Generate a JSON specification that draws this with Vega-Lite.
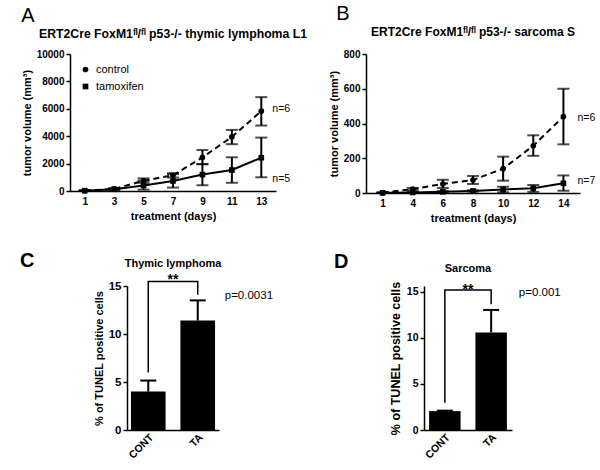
{
  "$schema": "https://vega.github.io/schema/vega-lite/v6.json",
  "background": "white",
  "padding": {"left": 20, "top": 4, "right": 2, "bottom": 2},
  "config": {
    "font": "Liberation Sans",
    "view": {"stroke": null},
    "axis": {"grid": false, "domainColor": "black", "domainWidth": 1.5, "tickColor": "black", "tickWidth": 1.5, "tickSize": 4, "labelColor": "black", "labelFontWeight": "bold", "labelFontSize": 10, "titleColor": "black", "titleFontWeight": "bold", "titleFontSize": 11, "labelPadding": 2, "labelOverlap": false},
    "title": {"color": "black"},
    "legend": {"labelFontSize": 10.5, "labelColor": "black"}
  },
  "datasets": {
    "A": [
      {"day": 1, "group": "control", "mean": 30, "lo": 0, "hi": 60},
      {"day": 3, "group": "control", "mean": 150, "lo": 100, "hi": 200},
      {"day": 5, "group": "control", "mean": 750, "lo": 600, "hi": 920},
      {"day": 7, "group": "control", "mean": 1150, "lo": 980, "hi": 1300},
      {"day": 9, "group": "control", "mean": 2450, "lo": 1960, "hi": 2990},
      {"day": 11, "group": "control", "mean": 3950, "lo": 3420, "hi": 4460},
      {"day": 13, "group": "control", "mean": 5830, "lo": 4780, "hi": 6850},
      {"day": 1, "group": "tamoxifen", "mean": 20, "lo": 0, "hi": 40},
      {"day": 3, "group": "tamoxifen", "mean": 130, "lo": 80, "hi": 180},
      {"day": 5, "group": "tamoxifen", "mean": 400, "lo": 100, "hi": 750},
      {"day": 7, "group": "tamoxifen", "mean": 730, "lo": 250, "hi": 1230},
      {"day": 9, "group": "tamoxifen", "mean": 1200, "lo": 420, "hi": 1960},
      {"day": 11, "group": "tamoxifen", "mean": 1530, "lo": 600, "hi": 2460},
      {"day": 13, "group": "tamoxifen", "mean": 2430, "lo": 1000, "hi": 3900}
    ],
    "Aann": [
      {"day": 13, "v": 6000, "label": "n=6"},
      {"day": 13, "v": 850, "label": "n=5"}
    ],
    "B": [
      {"day": 1, "group": "control", "mean": 2, "lo": 0, "hi": 4},
      {"day": 4, "group": "control", "mean": 22, "lo": 15, "hi": 29},
      {"day": 6, "group": "control", "mean": 52, "lo": 29, "hi": 76},
      {"day": 8, "group": "control", "mean": 75, "lo": 52, "hi": 98},
      {"day": 10, "group": "control", "mean": 140, "lo": 71, "hi": 209},
      {"day": 12, "group": "control", "mean": 272, "lo": 214, "hi": 332},
      {"day": 14, "group": "control", "mean": 440, "lo": 280, "hi": 600},
      {"day": 1, "group": "tamoxifen", "mean": 1, "lo": 0, "hi": 2},
      {"day": 4, "group": "tamoxifen", "mean": 3, "lo": 1, "hi": 5},
      {"day": 6, "group": "tamoxifen", "mean": 7, "lo": 3, "hi": 11},
      {"day": 8, "group": "tamoxifen", "mean": 12, "lo": 8, "hi": 16},
      {"day": 10, "group": "tamoxifen", "mean": 20, "lo": 4, "hi": 36},
      {"day": 12, "group": "tamoxifen", "mean": 27, "lo": 6, "hi": 46},
      {"day": 14, "group": "tamoxifen", "mean": 56, "lo": 13, "hi": 101}
    ],
    "Bann": [
      {"day": 14, "v": 430, "label": "n=6"},
      {"day": 14, "v": 67, "label": "n=7"}
    ],
    "C": [
      {"cat": "CONT", "v": 4.0, "hi": 5.15},
      {"cat": "TA", "v": 11.4, "hi": 13.5}
    ],
    "Cbr": [
      {"cat": "CONT", "v": 6.0, "o": 1},
      {"cat": "CONT", "v": 15.46, "o": 2},
      {"cat": "TA", "v": 15.46, "o": 3},
      {"cat": "TA", "v": 14.1, "o": 4}
    ],
    "D": [
      {"cat": "CONT", "v": 2.05, "hi": 2.1},
      {"cat": "TA", "v": 10.6, "hi": 13.05}
    ],
    "Dbr": [
      {"cat": "CONT", "v": 2.97, "o": 1},
      {"cat": "CONT", "v": 15.22, "o": 2},
      {"cat": "TA", "v": 15.22, "o": 3},
      {"cat": "TA", "v": 13.66, "o": 4}
    ]
  },
  "concat": [
    {
      "hconcat": [
        {
          "title": {"text": "A", "anchor": "start", "fontSize": 20, "fontWeight": "normal", "offset": 2},
          "vconcat": [
            {
              "title": {"text": "ERT2Cre FoxM1ᶠˡ/ᶠˡ p53-/- thymic lymphoma L1", "fontSize": 12.25, "fontWeight": "bold", "offset": 9},
              "width": 206,
              "height": 137,
              "layer": [
                {
                  "data": {"name": "A"},
                  "transform": [{"filter": "datum.group === 'control'"}],
                  "mark": {"type": "line", "strokeWidth": 2, "color": "black", "strokeDash": [6, 4]},
                  "encoding": {
                    "x": {"field": "day", "type": "ordinal", "title": "treatment (days)", "scale": {"type": "point", "padding": 0.5}, "axis": {"labelAngle": 0, "ticks": false, "labelPadding": 5}},
                    "y": {"field": "mean", "type": "quantitative", "title": "tumor volume (mm³)", "scale": {"domain": [0, 10000], "nice": false}, "axis": {"values": [0, 2000, 4000, 6000, 8000, 10000], "format": "d"}}
                  }
                },
                {
                  "data": {"name": "A"},
                  "transform": [{"filter": "datum.group === 'tamoxifen'"}],
                  "mark": {"type": "line", "strokeWidth": 2, "color": "black"},
                  "encoding": {
                    "x": {"field": "day", "type": "ordinal", "title": "treatment (days)"},
                    "y": {"field": "mean", "type": "quantitative", "title": "tumor volume (mm³)", "axis": {"values": [0, 2000, 4000, 6000, 8000, 10000], "format": "d"}}
                  }
                },
                {
                  "data": {"name": "A"},
                  "mark": {"type": "errorbar", "color": "black", "thickness": 2, "size": 12, "ticks": true},
                  "encoding": {
                    "x": {"field": "day", "type": "ordinal", "title": "treatment (days)"},
                    "y": {"field": "lo", "type": "quantitative", "title": "tumor volume (mm³)", "axis": {"values": [0, 2000, 4000, 6000, 8000, 10000], "format": "d"}},
                    "y2": {"field": "hi"}
                  }
                },
                {
                  "data": {"name": "A"},
                  "mark": {"type": "point", "filled": true, "size": 32, "color": "black", "opacity": 1},
                  "encoding": {
                    "x": {"field": "day", "type": "ordinal", "title": "treatment (days)"},
                    "y": {"field": "mean", "type": "quantitative", "title": "tumor volume (mm³)", "axis": {"values": [0, 2000, 4000, 6000, 8000, 10000], "format": "d"}},
                    "shape": {"field": "group", "type": "nominal", "scale": {"domain": ["control", "tamoxifen"], "range": ["circle", "square"]}, "legend": {"title": null, "orient": "top-left", "offset": 10, "symbolFillColor": "black", "symbolStrokeColor": "black", "symbolSize": 32, "rowPadding": 4, "labelOffset": 5, "labelFontSize": 11}}
                  }
                },
                {
                  "data": {"name": "Aann"},
                  "mark": {"type": "text", "align": "left", "dx": 11, "fontSize": 10.5, "color": "black"},
                  "encoding": {
                    "x": {"field": "day", "type": "ordinal", "title": "treatment (days)"},
                    "y": {"field": "v", "type": "quantitative", "title": "tumor volume (mm³)", "axis": {"values": [0, 2000, 4000, 6000, 8000, 10000], "format": "d"}},
                    "text": {"field": "label"}
                  }
                }
              ]
            }
          ]
        },
        {
          "title": {"text": "B", "anchor": "start", "fontSize": 20, "fontWeight": "normal", "offset": 2, "dx": 8},
          "vconcat": [
            {
              "title": {"text": "ERT2Cre FoxM1ᶠˡ/ᶠˡ p53-/- sarcoma S", "fontSize": 12, "fontWeight": "bold", "offset": 10},
              "width": 214,
              "height": 139,
              "layer": [
                {
                  "data": {"name": "B"},
                  "transform": [{"filter": "datum.group === 'control'"}],
                  "mark": {"type": "line", "strokeWidth": 2, "color": "black", "strokeDash": [6, 4]},
                  "encoding": {
                    "x": {"field": "day", "type": "ordinal", "title": "treatment (days)", "scale": {"type": "point", "padding": 0.55}, "axis": {"labelAngle": 0, "ticks": false, "labelPadding": 5}},
                    "y": {"field": "mean", "type": "quantitative", "title": "tumor volume (mm³)", "scale": {"domain": [0, 800], "nice": false}, "axis": {"values": [0, 200, 400, 600, 800], "format": "d"}}
                  }
                },
                {
                  "data": {"name": "B"},
                  "transform": [{"filter": "datum.group === 'tamoxifen'"}],
                  "mark": {"type": "line", "strokeWidth": 2, "color": "black"},
                  "encoding": {
                    "x": {"field": "day", "type": "ordinal", "title": "treatment (days)"},
                    "y": {"field": "mean", "type": "quantitative", "title": "tumor volume (mm³)", "axis": {"values": [0, 200, 400, 600, 800], "format": "d"}}
                  }
                },
                {
                  "data": {"name": "B"},
                  "mark": {"type": "errorbar", "color": "black", "thickness": 2, "size": 12, "ticks": true},
                  "encoding": {
                    "x": {"field": "day", "type": "ordinal", "title": "treatment (days)"},
                    "y": {"field": "lo", "type": "quantitative", "title": "tumor volume (mm³)", "axis": {"values": [0, 200, 400, 600, 800], "format": "d"}},
                    "y2": {"field": "hi"}
                  }
                },
                {
                  "data": {"name": "B"},
                  "mark": {"type": "point", "filled": true, "size": 32, "color": "black", "opacity": 1},
                  "encoding": {
                    "x": {"field": "day", "type": "ordinal", "title": "treatment (days)"},
                    "y": {"field": "mean", "type": "quantitative", "title": "tumor volume (mm³)", "axis": {"values": [0, 200, 400, 600, 800], "format": "d"}},
                    "shape": {"field": "group", "type": "nominal", "scale": {"domain": ["control", "tamoxifen"], "range": ["circle", "square"]}, "legend": {"title": null, "orient": "top-left", "offset": 12, "symbolFillColor": "black", "symbolStrokeColor": "black", "symbolSize": 32, "rowPadding": 4, "labelOffset": 5, "labelFontSize": 11}}
                  }
                },
                {
                  "data": {"name": "Bann"},
                  "mark": {"type": "text", "align": "left", "dx": 14, "fontSize": 10.5, "color": "black"},
                  "encoding": {
                    "x": {"field": "day", "type": "ordinal", "title": "treatment (days)"},
                    "y": {"field": "v", "type": "quantitative", "title": "tumor volume (mm³)", "axis": {"values": [0, 200, 400, 600, 800], "format": "d"}},
                    "text": {"field": "label"}
                  }
                }
              ]
            }
          ]
        }
      ],
      "spacing": 20
    },
    {
      "hconcat": [
        {
          "title": {"text": "C", "anchor": "start", "frame": "group", "fontSize": 20, "fontWeight": "bold", "offset": 25, "dx": -50, "dy": 12},
          "width": 23,
          "height": 1,
          "data": {"values": [{}]},
          "mark": {"type": "point", "opacity": 0},
          "encoding": {}
        },
        {
          "title": {"text": "Thymic lymphoma", "fontSize": 11, "fontWeight": "bold", "offset": 2, "dy": -2},
          "width": 92,
          "height": 144,
          "layer": [
            {
              "data": {"name": "C"},
              "mark": {"type": "bar", "color": "black"},
              "encoding": {
                "x": {"field": "cat", "type": "nominal", "title": null, "sort": ["CONT", "TA"], "scale": {"paddingInner": 0.3, "paddingOuter": 0.08}, "axis": {"labelAngle": -45, "ticks": false, "labelFontSize": 10.5}},
                "y": {"field": "v", "type": "quantitative", "title": "% of TUNEL positive cells", "scale": {"domain": [0, 15], "nice": false}, "axis": {"values": [0, 5, 10, 15], "labelFontSize": 11.5}}
              }
            },
            {
              "data": {"name": "C"},
              "mark": {"type": "rule", "strokeWidth": 2, "color": "black"},
              "encoding": {
                "x": {"field": "cat", "type": "nominal", "title": null},
                "y": {"field": "v", "type": "quantitative", "title": "% of TUNEL positive cells"},
                "y2": {"field": "hi"}
              }
            },
            {
              "data": {"name": "C"},
              "mark": {"type": "tick", "orient": "horizontal", "size": 16, "thickness": 2, "color": "black", "opacity": 1},
              "encoding": {
                "x": {"field": "cat", "type": "nominal", "title": null},
                "y": {"field": "hi", "type": "quantitative", "title": "% of TUNEL positive cells"}
              }
            },
            {
              "data": {"name": "Cbr"},
              "mark": {"type": "line", "strokeWidth": 1.5, "color": "black"},
              "encoding": {
                "x": {"field": "cat", "type": "nominal", "title": null},
                "y": {"field": "v", "type": "quantitative", "title": "% of TUNEL positive cells"},
                "order": {"field": "o"}
              }
            },
            {
              "data": {"values": [{"cat": "CONT", "v": 15.6, "label": "**"}]},
              "mark": {"type": "text", "fontSize": 14, "fontWeight": "bold", "baseline": "middle", "color": "black"},
              "encoding": {
                "x": {"field": "cat", "type": "nominal", "title": null, "bandPosition": 1.215},
                "y": {"field": "v", "type": "quantitative", "title": "% of TUNEL positive cells"},
                "text": {"field": "label"}
              }
            },
            {
              "data": {"values": [{"cat": "TA", "v": 14.0, "label": "p=0.0031"}]},
              "mark": {"type": "text", "fontSize": 11.5, "align": "left", "baseline": "middle", "color": "black"},
              "encoding": {
                "x": {"field": "cat", "type": "nominal", "title": null, "bandPosition": 1.28},
                "y": {"field": "v", "type": "quantitative", "title": "% of TUNEL positive cells"},
                "text": {"field": "label"}
              }
            }
          ]
        },
        {
          "title": {"text": "D", "anchor": "start", "frame": "group", "fontSize": 20, "fontWeight": "bold", "offset": 25, "dx": 60, "dy": 13},
          "width": 115,
          "height": 1,
          "data": {"values": [{}]},
          "mark": {"type": "point", "opacity": 0},
          "encoding": {}
        },
        {
          "title": {"text": "Sarcoma", "fontSize": 11, "fontWeight": "bold", "offset": 9, "dy": 2},
          "width": 88,
          "height": 144,
          "layer": [
            {
              "data": {"name": "D"},
              "mark": {"type": "bar", "color": "black"},
              "encoding": {
                "x": {"field": "cat", "type": "nominal", "title": null, "sort": ["CONT", "TA"], "scale": {"paddingInner": 0.32, "paddingOuter": 0.11}, "axis": {"labelAngle": -45, "ticks": false, "labelFontSize": 10.5}},
                "y": {"field": "v", "type": "quantitative", "title": "% of TUNEL positive cells", "scale": {"domain": [0, 15.65], "nice": false}, "axis": {"values": [0, 5, 10, 15], "labelFontSize": 10.5, "titleFontSize": 12.5}}
              }
            },
            {
              "data": {"name": "D"},
              "mark": {"type": "rule", "strokeWidth": 2, "color": "black"},
              "encoding": {
                "x": {"field": "cat", "type": "nominal", "title": null},
                "y": {"field": "v", "type": "quantitative", "title": "% of TUNEL positive cells"},
                "y2": {"field": "hi"}
              }
            },
            {
              "data": {"name": "D"},
              "mark": {"type": "tick", "orient": "horizontal", "size": 16, "thickness": 2, "color": "black", "opacity": 1},
              "encoding": {
                "x": {"field": "cat", "type": "nominal", "title": null},
                "y": {"field": "hi", "type": "quantitative", "title": "% of TUNEL positive cells"}
              }
            },
            {
              "data": {"name": "Dbr"},
              "mark": {"type": "line", "strokeWidth": 1.5, "color": "black"},
              "encoding": {
                "x": {"field": "cat", "type": "nominal", "title": null},
                "y": {"field": "v", "type": "quantitative", "title": "% of TUNEL positive cells"},
                "order": {"field": "o"}
              }
            },
            {
              "data": {"values": [{"cat": "CONT", "v": 15.18, "label": "**"}]},
              "mark": {"type": "text", "fontSize": 14, "fontWeight": "bold", "baseline": "middle", "color": "black"},
              "encoding": {
                "x": {"field": "cat", "type": "nominal", "title": null, "bandPosition": 1.235},
                "y": {"field": "v", "type": "quantitative", "title": "% of TUNEL positive cells"},
                "text": {"field": "label"}
              }
            },
            {
              "data": {"values": [{"cat": "TA", "v": 14.9, "label": "p=0.001"}]},
              "mark": {"type": "text", "fontSize": 11.5, "align": "left", "baseline": "middle", "color": "black"},
              "encoding": {
                "x": {"field": "cat", "type": "nominal", "title": null, "bandPosition": 1.38},
                "y": {"field": "v", "type": "quantitative", "title": "% of TUNEL positive cells"},
                "text": {"field": "label"}
              }
            }
          ]
        }
      ],
      "spacing": 0
    }
  ],
  "columns": 1,
  "align": "none",
  "spacing": 27
}
